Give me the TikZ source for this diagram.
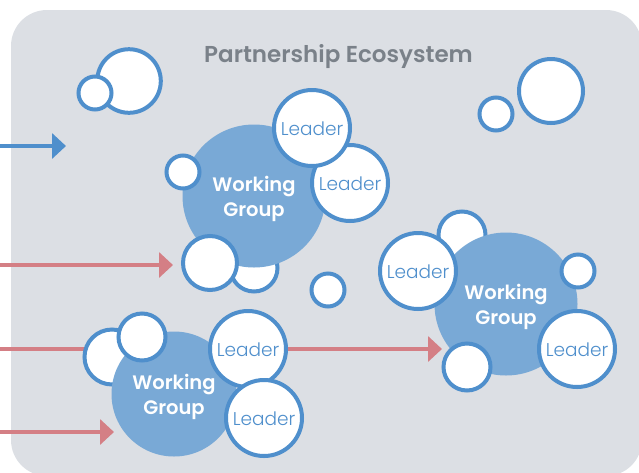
\documentclass[tikz,border=0pt]{standalone}
\usepackage{fontspec}
\setmainfont{Poppins}
\newfontfamily\lightfont{Poppins Light}
\newfontfamily\semifont{Poppins SemiBold}
\usetikzlibrary{arrows.meta}
\definecolor{panel}{HTML}{DCDFE4}
\definecolor{ringblue}{HTML}{4F8FCC}
\definecolor{groupblue}{HTML}{79A9D6}
\definecolor{linkred}{HTML}{D47F85}
\definecolor{titlegrey}{HTML}{7A8189}
\tikzset{
  bubble/.style={circle,draw=ringblue,fill=white,line width=4pt,inner sep=0pt,minimum size=#1*2pt-4pt},
  group/.style={circle,fill=groupblue,inner sep=0pt,minimum size=#1*2pt},
  grouptext/.style={text=white,font=\semifont\fontsize{19.5}{25}\selectfont,align=center},
  leadertext/.style={text=ringblue,font=\lightfont\fontsize{18.5}{22}\selectfont,text depth=0pt,text height=15.5pt},
  flow/.style={line width=3.8pt,-{Triangle[length=14pt,width=25pt]}},
}
\begin{document}
\begin{tikzpicture}[x=1pt,y=-1pt]
\useasboundingbox (0,0) rectangle (639,472);
\fill[panel,rounded corners=36pt] (11,10) rectangle (642,476);
\node[text=titlegrey,font=\semifont\fontsize{23}{26}\selectfont] (title) at (338.5,56.5) {Partnership Ecosystem};
% free ends of connectors
\coordinate (s1) at (0,146); \coordinate (t1) at (66,146);
\coordinate (s2) at (0,265); \coordinate (t2) at (173,265);
\coordinate (s3) at (0,349); \coordinate (t3) at (442,349);
\coordinate (s4) at (0,432); \coordinate (t4) at (114,432);
\draw[flow,draw=ringblue,color=ringblue] (s1) -- (t1);
\draw[flow,draw=linkred,color=linkred] (s2) -- (t2);
\draw[flow,draw=linkred,color=linkred] (s3) -- (t3);
\draw[flow,draw=linkred,color=linkred] (s4) -- (t4);
% top left pair
\node[bubble=33.8] (a1) at (129,81) {};
\node[bubble=18.5] (a2) at (95,93) {};
% top right pair
\node[bubble=34] (b1) at (551,91) {};
\node[bubble=18.5] (b2) at (496,114) {};
% lone
\node[bubble=18.5] (c1) at (328,290) {};
% group 1
\node[bubble=25.5] (g1a) at (254,268) {};
\node[group=71.5] (g1) at (254,196) {};
\node[grouptext] (g1t) at (254,198.5) {Working\\Group};
\node[bubble=18.5] (g1b) at (183,172) {};
\node[bubble=29] (g1c) at (210,263) {};
\node[bubble=40,leadertext] (g1l2) at (350,183) {Leader};
\node[bubble=40,leadertext] (g1l1) at (312,128) {Leader};
% group 2
\node[bubble=25.5] (g2a) at (462,235) {};
\node[group=71.5] (g2) at (506,304) {};
\node[grouptext] (g2t) at (506,306.5) {Working\\Group};
\node[bubble=40,leadertext] (g2l1) at (418,271) {Leader};
\node[bubble=18.5] (g2b) at (578,271) {};
\node[bubble=40,leadertext] (g2l2) at (577,349) {Leader};
\node[bubble=25.5] (g2c) at (467,367) {};
% group 3
\node[bubble=29.5] (g3a) at (112,357) {};
\node[group=62.5] (g3) at (174,394) {};
\node[grouptext] (g3t) at (174,396.5) {Working\\Group};
\node[bubble=25.5] (g3b) at (142,337) {};
\node[bubble=40,leadertext] (g3l1) at (248,349) {Leader};
\node[bubble=40,leadertext] (g3l2) at (264,418) {Leader};
\end{tikzpicture}
\end{document}
